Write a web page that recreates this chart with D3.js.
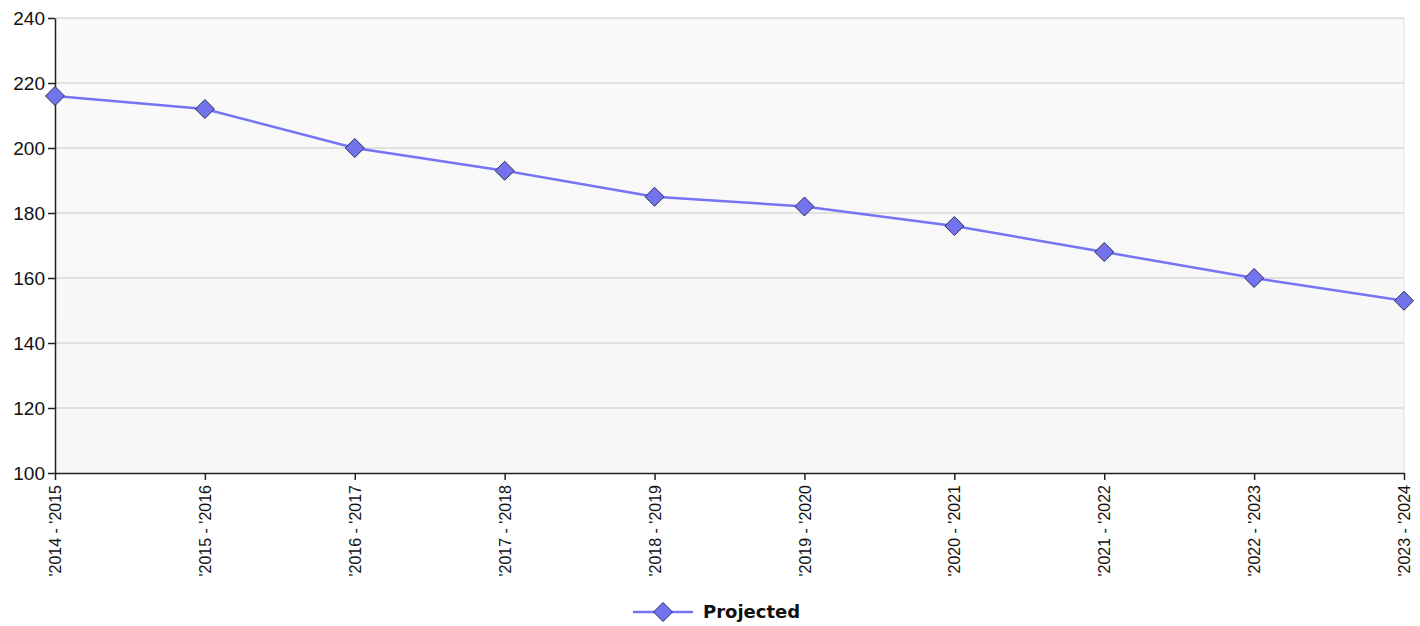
<!DOCTYPE html>
<html>
<head>
<meta charset="utf-8">
<script src="https://cdn.jsdelivr.net/npm/d3@7"></script>
<style>
  body { margin: 0; background: #fff; }
  svg { display: block; font-family: "DejaVu Sans", Verdana, sans-serif; }
</style>
</head>
<body>
<div id="container"></div>
<script>
const periods = ["'2014 - '2015", "'2015 - '2016", "'2016 - '2017", "'2017 - '2018", "'2018 - '2019",
    "'2019 - '2020", "'2020 - '2021", "'2021 - '2022", "'2022 - '2023", "'2023 - '2024"];
const projected = [216, 212, 200, 193, 185, 182, 176, 168, 160, 153];
const yTicks = [100, 120, 140, 160, 180, 200, 220, 240];

const width = 1420;
const height = 626;
const margin = { top: 18, right: 16, bottom: 153, left: 55 };

const svg = d3.select('#container')
    .append('svg')
    .attr('width', width)
    .attr('height', height);

const x = d3.scalePoint()
    .domain(periods)
    .range([margin.left, width - margin.right]);

const y = d3.scaleLinear()
    .domain([100, 240])
    .range([height - margin.bottom, margin.top]);

// plot background
const defs = svg.append('defs');
const grad = defs.append('linearGradient')
    .attr('id', 'bg')
    .attr('x1', 0).attr('y1', 0).attr('x2', 0).attr('y2', 1);
grad.append('stop').attr('offset', '0%').attr('stop-color', '#fafafa');
grad.append('stop').attr('offset', '100%').attr('stop-color', '#f6f6f6');

svg.append('rect')
    .attr('x', margin.left)
    .attr('y', margin.top)
    .attr('width', width - margin.right - margin.left)
    .attr('height', y(100) - margin.top)
    .attr('fill', 'url(#bg)');

// grid lines
svg.append('g')
    .selectAll('line')
    .data(yTicks.filter(d => d > 100))
    .join('line')
    .attr('x1', margin.left)
    .attr('x2', width - margin.right)
    .attr('y1', d => y(d))
    .attr('y2', d => y(d))
    .attr('stroke', '#c8c8c8')
    .attr('stroke-width', 1);

// right border
svg.append('line')
    .attr('x1', width - margin.right).attr('x2', width - margin.right)
    .attr('y1', margin.top).attr('y2', y(100))
    .attr('stroke', '#e2e2e2');

// y axis
const yAxis = svg.append('g')
    .attr('transform', `translate(${margin.left},0)`)
    .call(d3.axisLeft(y).tickValues(yTicks).tickSize(7).tickSizeOuter(0).tickPadding(3));
yAxis.select('.domain').attr('stroke', '#222').attr('stroke-width', 1.5);
yAxis.selectAll('.tick line').attr('stroke', '#222').attr('stroke-width', 1.5);
yAxis.selectAll('text')
    .attr('fill', '#111')
    .style('font-size', '19px');

// x axis
const xAxis = svg.append('g')
    .attr('transform', `translate(0,${y(100)})`)
    .call(d3.axisBottom(x).tickSize(7).tickSizeOuter(0));
xAxis.select('.domain').attr('stroke', '#222').attr('stroke-width', 1.5);
xAxis.selectAll('.tick line').attr('stroke', '#222').attr('stroke-width', 1.5);
xAxis.selectAll('text')
    .attr('fill', '#111')
    .style('font-size', '16px')
    .attr('text-anchor', 'end')
    .attr('dy', '0.35em')
    .attr('transform', 'translate(0,12) rotate(-90)')
    .attr('x', 0)
    .attr('y', 0);

// line
const line = d3.line()
    .x((d, i) => x(periods[i]))
    .y(d => y(d));

svg.append('path')
    .datum(projected)
    .attr('fill', 'none')
    .attr('stroke', '#7474f4')
    .attr('stroke-width', 2.5)
    .attr('d', line);

const diamond = r => `M0,${-r}L${r},0L0,${r}L${-r},0Z`;

svg.append('g')
    .selectAll('path')
    .data(projected)
    .join('path')
    .attr('transform', (d, i) => `translate(${x(periods[i])},${y(d)})`)
    .attr('d', diamond(9.5))
    .attr('fill', '#7373ee')
    .attr('stroke', '#2b2b55')
    .attr('stroke-width', 1);

// legend
const legend = svg.append('g')
    .attr('transform', 'translate(633,612)');
legend.append('line')
    .attr('x1', 0).attr('x2', 60)
    .attr('stroke', '#7474f4')
    .attr('stroke-width', 2.5);
legend.append('path')
    .attr('transform', 'translate(30,0)')
    .attr('d', diamond(9.5))
    .attr('fill', '#7373ee')
    .attr('stroke', '#2b2b55');
legend.append('text')
    .attr('x', 70)
    .attr('dy', '0.35em')
    .attr('fill', '#111')
    .style('font-size', '18px')
    .style('font-weight', 'bold')
    .text('Projected');
</script>
</body>
</html>
